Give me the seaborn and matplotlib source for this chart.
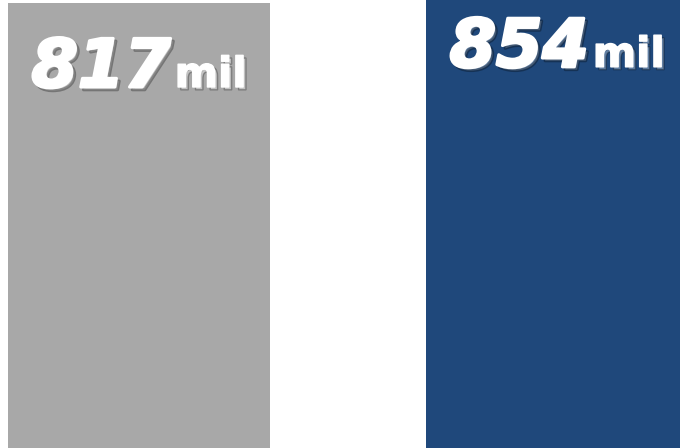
import matplotlib
matplotlib.use("Agg")
import matplotlib.pyplot as plt
import matplotlib.patheffects as pe
import seaborn as sns
import pandas as pd

categories = ["A", "B"]
values = [817, 854]
labels = ["817", "854"]
suffix = "mil"
colors = ["#a8a8a8", "#1f487b"]

df = pd.DataFrame({"cat": categories, "val": values})

sns.set_theme(style="white")
family = "DejaVu Sans"

fig = plt.figure(figsize=(6.8, 4.48), dpi=100)
ax = fig.add_axes([0, 0, 1, 1])
sns.barplot(data=df, x="cat", y="val", hue="cat", palette=colors, width=0.627,
            legend=False, ax=ax, saturation=1, edgecolor="none")
ax.set_xlim(-0.3325, 1.294)
ax.set_ylim(0, 822.5)
ax.axis("off")


def effects(lw):
    return [pe.Stroke(linewidth=lw, foreground="black", alpha=0.3, offset=(2, -2)),
            pe.Stroke(linewidth=lw, foreground="white"), pe.Normal()]


fig.canvas.draw()
renderer = fig.canvas.get_renderer()
for i, (v, lab) in enumerate(zip(values, labels)):
    t1 = ax.annotate(lab, xy=(i, v), xytext=(0, -83), textcoords="offset pixels",
                     ha="left", va="baseline", color="white", fontsize=48,
                     family=family, weight="bold", style="italic", path_effects=effects(2.2),
                     annotation_clip=False)
    t2 = ax.annotate(suffix, xy=(i, v), xytext=(0, -83), textcoords="offset pixels",
                     ha="left", va="baseline", color="white", fontsize=30,
                     family=family, weight="bold", style="normal", path_effects=effects(1.0),
                     annotation_clip=False)
    w1 = t1.get_window_extent(renderer).width
    w2 = t2.get_window_extent(renderer).width
    gap = 4
    total = w1 + gap + w2
    t1.xyann = (-total / 2, -84)
    t2.xyann = (-total / 2 + w1 + gap, -84)

fig.savefig("out.png", dpi=100)
